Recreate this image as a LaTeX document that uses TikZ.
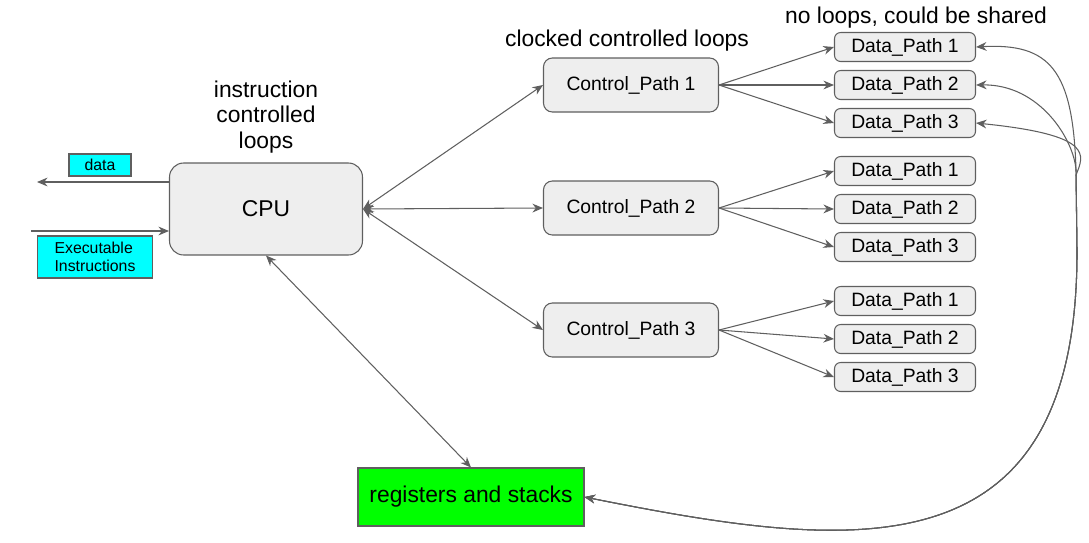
\documentclass[tikz,border=0pt]{standalone}
\usepackage{fontspec}
\setmainfont{Liberation Sans}
\usetikzlibrary{arrows.meta}
\definecolor{boxgray}{HTML}{EEEEEE}
\definecolor{linegray}{HTML}{5F5F5F}
\definecolor{tagcyan}{HTML}{00FFFF}
\definecolor{reggreen}{HTML}{00FF00}

\begin{document}
\begin{tikzpicture}[x=0.02cm,y=-0.02cm,line width=0.6pt,
  pathbox/.style={draw=linegray,fill=boxgray,rounded corners=5pt,inner sep=0pt},
  ctrlbox/.style={pathbox,minimum width=3.5cm,minimum height=1.08cm,font=\fontsize{11}{13}\selectfont},
  databox/.style={pathbox,rounded corners=3.5pt,minimum width=2.82cm,minimum height=0.58cm,font=\fontsize{11}{13}\selectfont},
  tagbox/.style={draw=linegray,fill=tagcyan,inner sep=0pt,font=\fontsize{9}{10.5}\selectfont},
  arr/.style={draw=linegray,-{Stealth[length=6pt,width=5pt]}},
  twoarr/.style={draw=linegray,{Stealth[length=6pt,width=5pt]}-{Stealth[length=6pt,width=5pt]}}]
\useasboundingbox (0,0) rectangle (1089,542);

\node[pathbox,rounded corners=8pt,minimum width=3.86cm,minimum height=1.84cm,font=\fontsize{13}{15}\selectfont] (cpu) at (266,209) {CPU};
\node[align=center,font=\fontsize{13}{14.7}\selectfont] (cpulabel) at (266,117) {instruction\\controlled\\loops};
\node[tagbox,minimum width=1.24cm,minimum height=0.44cm] (data) at (100,165) {data};
\node[tagbox,minimum width=2.3cm,minimum height=0.84cm,align=left] (instr) at (95,257) {Executable\\Instructions};
\coordinate (dataout) at (37,182);
\coordinate (instrin) at (31,231);
\draw[arr] (cpu.west |- dataout) -- (dataout);
\draw[arr] (instrin) -- (instrin -| cpu.west);

\node[font=\fontsize{13}{15}\selectfont] (cplabel) at (627,41) {clocked controlled loops};
\node[font=\fontsize{13}{15}\selectfont] (dplabel) at (916,18) {no loops, could be shared};

\foreach \i/\y in {1/85,2/208,3/330}
  \node[ctrlbox] (cp\i) at (631,\y) {Control\_Path \i};
\foreach \i/\y in {1/47,2/171,3/301}
  \foreach \j/\d in {1/0,2/38,3/76}
    \node[databox] (dp\i\j) at (905,\y+\d) {Data\_Path \j};

\foreach \i in {1,2,3} {
  \draw[twoarr] (cpu.east) -- (cp\i.west);
  \foreach \j in {1,2,3}
    \draw[arr] (cp\i.east) -- (dp\i\j.west);
}

\node[draw=linegray,fill=reggreen,inner sep=0pt,minimum width=4.52cm,minimum height=1.16cm,font=\fontsize{13}{15}\selectfont] (regs) at (471,497) {registers and stacks};
\draw[twoarr] (cpu.south) -- (regs.north);

\draw[twoarr] (regs.east) .. controls (850,550) and (1078,580) .. (1077,250)
  -- (1076,170) .. controls (1073,70) and (1050,43) .. (dp11.east);
\draw[twoarr] (regs.east) .. controls (850,550) and (1078,580) .. (1077,250)
  -- (1076,170) .. controls (1074,140) and (1040,84) .. (dp12.east);
\draw[twoarr] (regs.east) .. controls (850,550) and (1078,580) .. (1077,250)
  -- (1076,175) .. controls (1084,155) and (1095,135) .. (dp13.east);
\end{tikzpicture}
\end{document}
